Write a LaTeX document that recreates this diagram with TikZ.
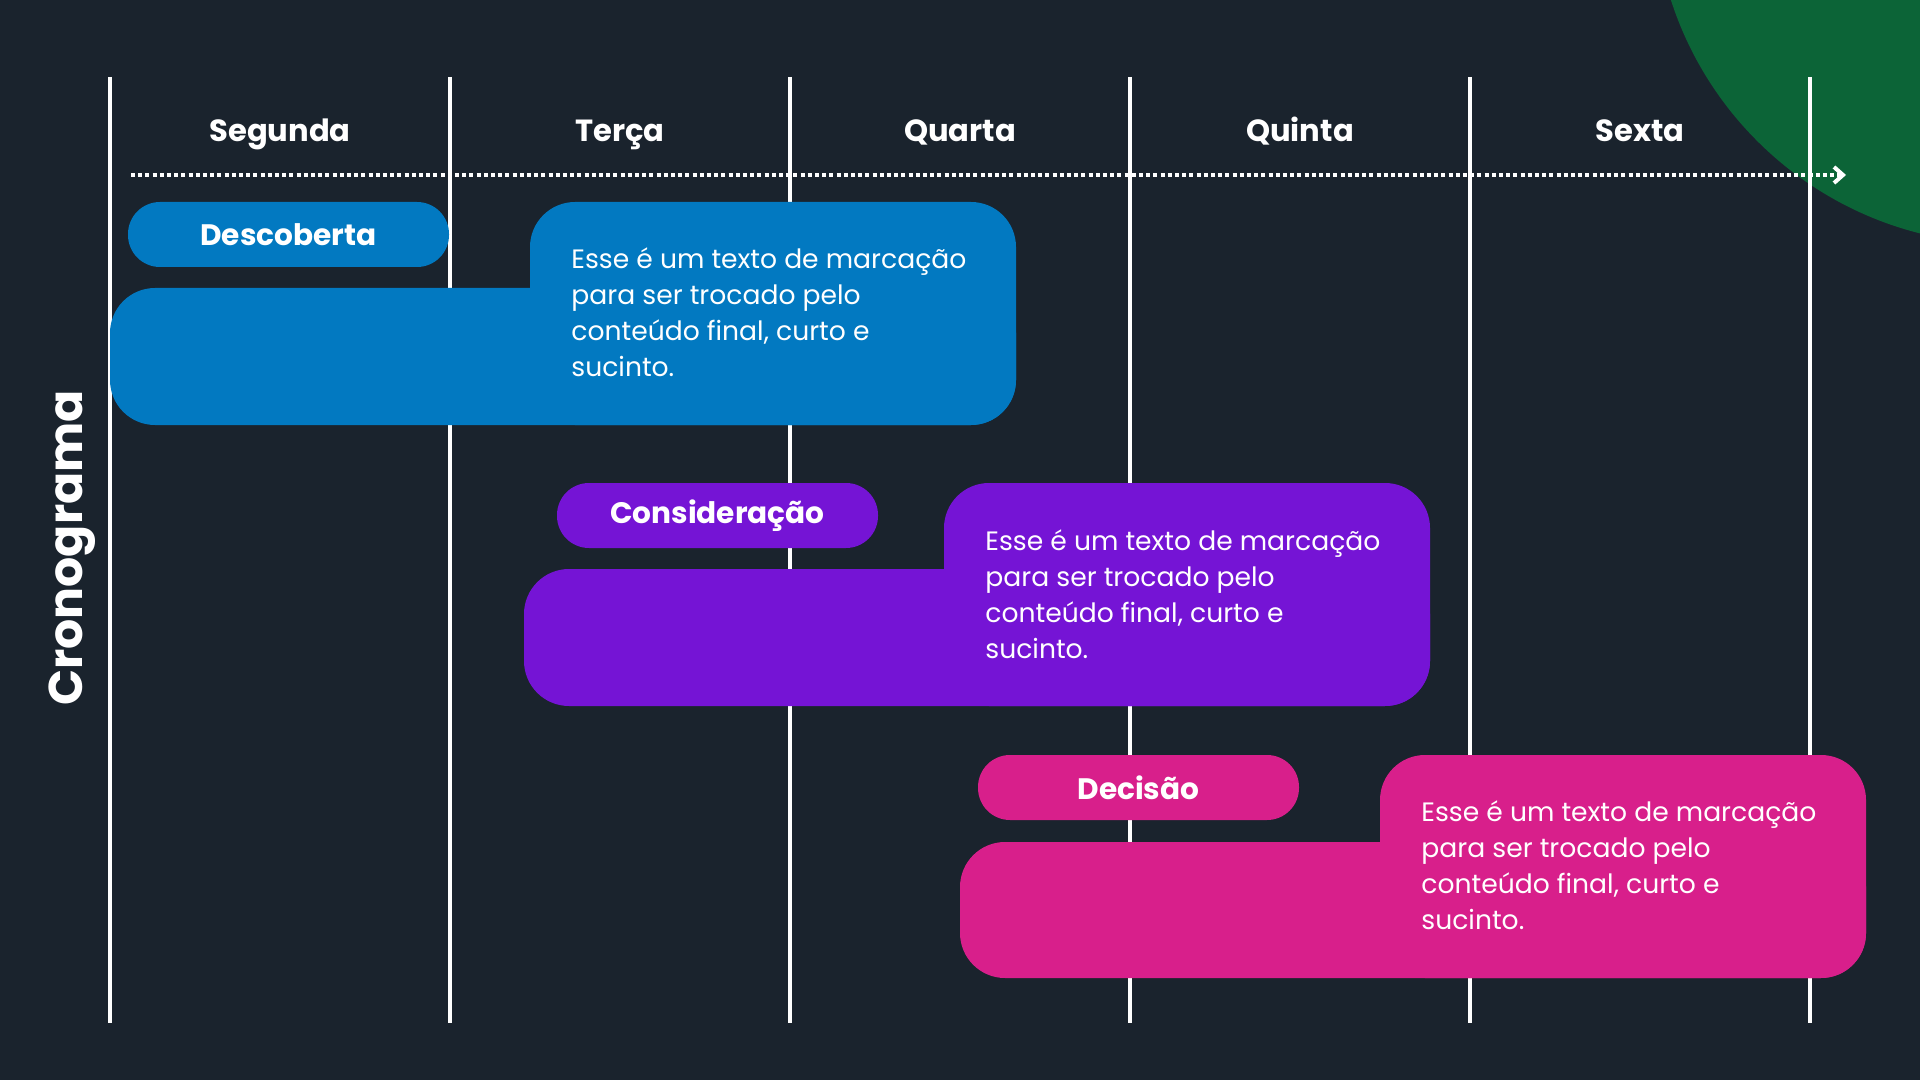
\documentclass[tikz,border=0pt]{standalone}
\usepackage{fontspec}
\setmainfont{Poppins}
\usetikzlibrary{arrows.meta}

\definecolor{bgdark}{HTML}{1A232D}
\definecolor{leafgreen}{HTML}{0C6437}
\definecolor{fasblue}{HTML}{0279C1}
\definecolor{faspurple}{HTML}{7514D5}
\definecolor{faspink}{HTML}{D81F8B}

\begin{document}
\begin{tikzpicture}[x=0.5pt, y=-0.5pt,
    gridline/.style={white, line width=2pt},
    timeline/.style={white, line width=2pt, dash pattern=on 2pt off 1.6pt, -{Straight Barb[length=4.5pt, width=8pt]}},
    day/.style={text=white, font=\fontsize{15.3}{18}\selectfont\bfseries, anchor=base},
    tab/.style={fill=#1, rounded corners=16pt, minimum width=160.5pt, minimum height=32.5pt, inner sep=0pt, text=white, font=\fontsize{14.8}{18}\selectfont\bfseries},
    body/.style={text=white, font=\fontsize{13.3}{18}\selectfont, align=left, anchor=base west, inner sep=0pt}
]
% fundo
\fill[bgdark] (0,0) rectangle (1920,1080);
\useasboundingbox (0,0) rectangle (1920,1080);
\begin{scope}
\clip (0,0) rectangle (1920,1080);
\fill[leafgreen] (2006,-108) circle (352);
\end{scope}

% grade dos dias
\foreach \x in {110,450,790,1130,1470,1810}
    \draw[gridline] (\x,77) -- (\x,1023);

\node[day] (seg) at (280,142) {Segunda};
\node[day] (ter) at (620,142) {Terça};
\node[day] (qua) at (960,142) {Quarta};
\node[day] (qui) at (1300,142) {Quinta};
\node[day] (sex) at (1640,142) {Sexta};

\coordinate (tl-start) at (131,175);
\coordinate (tl-end) at (1846,175);
\draw[timeline] (tl-start) -- (tl-end);

\node[rotate=90, anchor=base, text=white, font=\fontsize{23.7}{28}\selectfont\bfseries] (titulo) at (82,548) {Cronograma};

% Descoberta
\fill[fasblue, rounded corners=22.5pt] (110,288) rectangle (1016,425);
\fill[fasblue, rounded corners=22.5pt] (530,202) rectangle (1016,425);
\node[tab=fasblue] (desc) at (288.5,234.5) {Descoberta};
\node[body] (desc-txt) at (571,377) {Esse é um texto de marcação\\para ser trocado pelo\\conteúdo final, curto e\\sucinto.};

% Consideração
\fill[faspurple, rounded corners=22.5pt] (524,569) rectangle (1430,706);
\fill[faspurple, rounded corners=22.5pt] (944,483) rectangle (1430,706);
\node[tab=faspurple] (cons) at (717.5,515.5) {Consideração};
\node[body] (cons-txt) at (985,658) {Esse é um texto de marcação\\para ser trocado pelo\\conteúdo final, curto e\\sucinto.};

% Decisão
\fill[faspink, rounded corners=22.5pt] (960,842) rectangle (1866,978);
\fill[faspink, rounded corners=22.5pt] (1380,755) rectangle (1866,978);
\node[tab=faspink] (deci) at (1138.5,787.5) {Decisão};
\node[body] (deci-txt) at (1421,929) {Esse é um texto de marcação\\para ser trocado pelo\\conteúdo final, curto e\\sucinto.};
\end{tikzpicture}
\end{document}
